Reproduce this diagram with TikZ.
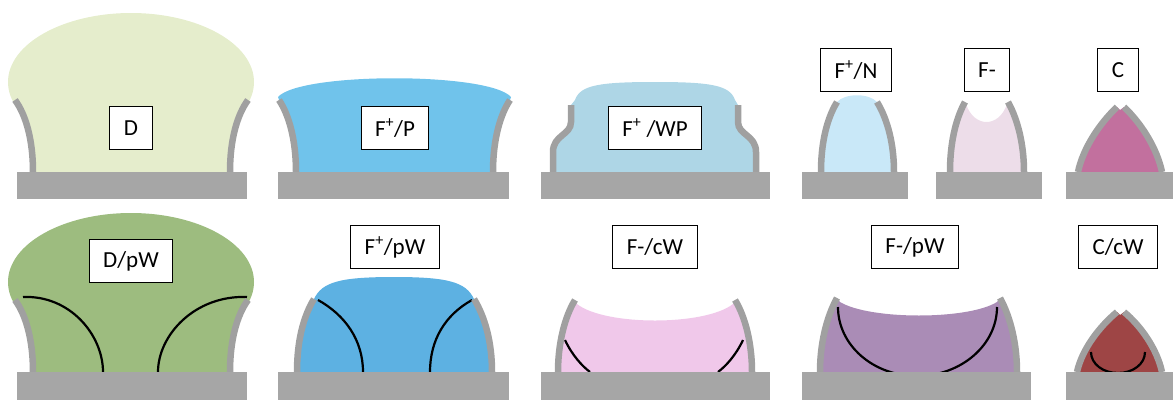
\documentclass[tikz,border=0pt]{standalone}
\usepackage{fontspec}
\usepackage{tikz}
\newfontfamily\labelfont{Carlito}

\definecolor{wallgray}{RGB}{160,160,160}
\definecolor{basegray}{RGB}{166,166,166}
\definecolor{dcol}{RGB}{229,237,204}
\definecolor{fpcol}{RGB}{112,195,235}
\definecolor{fwpcol}{RGB}{174,214,230}
\definecolor{fncol}{RGB}{201,232,248}
\definecolor{fmcol}{RGB}{237,221,233}
\definecolor{ccol}{RGB}{194,112,158}
\definecolor{dpwcol}{RGB}{157,188,127}
\definecolor{fpwcol}{RGB}{93,177,226}
\definecolor{fcwcol}{RGB}{240,200,234}
\definecolor{fmpwcol}{RGB}{170,140,182}
\definecolor{ccwcol}{RGB}{158,69,69}

\tikzset{
  lbl/.style={draw=black, line width=1.1pt, fill=white, minimum height=43pt,
    inner xsep=14pt, font={\labelfont\fontsize{23}{26}\selectfont}},
  wall/.style={draw=wallgray, line width=6.5pt},
  base/.style={fill=basegray},
  trace/.style={draw=black, line width=2.2pt},
}

\begin{document}
\begin{tikzpicture}[x=1pt, y=-1pt]
    \useasboundingbox (0,0) rectangle (1173,400);

    % Top row: fills
    \fill[dcol] (131,82) ellipse [x radius=123, y radius=69];
    \fill[dcol] (15,100) .. controls (26,115) and (33,140) .. (33,172) -- (230,172)
        .. controls (230,140) and (237,115) .. (248,100) -- (248,82) -- (15,82) -- cycle;
    \fill[fpcol] (296,172) .. controls (296,140) and (289,115) .. (279,100) -- (278,97)
        .. controls (300,72) and (489,72) .. (511,97) -- (510,100)
        .. controls (500,115) and (493,140) .. (493,172) -- cycle;
    \fill[fwpcol] (553,172) -- (553,152) .. controls (553,135) and (571,135) .. (571,122) -- (571,105)
        -- (575,100) .. controls (580,85) and (600,82) .. (655,82) .. controls (710,82) and (730,85) .. (735,100)
        -- (738,105) -- (738,122) .. controls (738,135) and (756,135) .. (756,152) -- (756,172) -- cycle;
    \fill[fncol] (821,172) .. controls (821,145) and (826,120) .. (837,102)
        .. controls (845,93) and (869,93) .. (877,102)
        .. controls (888,120) and (894,145) .. (894,172) -- cycle;
    \fill[fmcol] (950,172) .. controls (950,145) and (955,120) .. (965,102) -- (966,104)
        .. controls (974,128) and (999,128) .. (1007,104) -- (1008,102)
        .. controls (1018,120) and (1024,145) .. (1024,172) -- cycle;
    \fill[ccol] (1078,172) .. controls (1083,148) and (1100,123) .. (1117,107) -- (1120,110) -- (1124,107)
        .. controls (1141,123) and (1157,148) .. (1162,172) -- cycle;

    % Top row: walls
    \draw[wall] (15,100) .. controls (26,115) and (33,140) .. (33,172);
    \draw[wall] (248,100) .. controls (237,115) and (230,140) .. (230,172);
    \draw[wall] (279,100) .. controls (289,115) and (296,140) .. (296,172);
    \draw[wall] (510,100) .. controls (500,115) and (493,140) .. (493,172);
    \draw[wall] (571,105) -- (571,122) .. controls (571,135) and (553,135) .. (553,152) -- (553,172);
    \draw[wall] (738,105) -- (738,122) .. controls (738,135) and (756,135) .. (756,152) -- (756,172);
    \draw[wall] (837,102) .. controls (826,120) and (821,145) .. (821,172);
    \draw[wall] (877,102) .. controls (888,120) and (894,145) .. (894,172);
    \draw[wall] (965,102) .. controls (955,120) and (950,145) .. (950,172);
    \draw[wall] (1008,102) .. controls (1018,120) and (1024,145) .. (1024,172);
    \draw[wall] (1117,107) .. controls (1100,123) and (1083,148) .. (1078,172);
    \draw[wall] (1124,107) .. controls (1141,123) and (1157,148) .. (1162,172);

    % Top row: bases
    \fill[base] (17,172) rectangle (247,199);
    \fill[base] (278,172) rectangle (509,199);
    \fill[base] (541,172) rectangle (770,199);
    \fill[base] (802,172) rectangle (908,199);
    \fill[base] (936,172) rectangle (1042,199);
    \fill[base] (1066,172) rectangle (1173,199);

    % Bottom row: fills
    \fill[dpwcol] (131,282) ellipse [x radius=123, y radius=69];
    \fill[dpwcol] (15,300) .. controls (26,315) and (33,340) .. (33,372) -- (230,372)
        .. controls (230,340) and (237,315) .. (248,300) -- (248,282) -- (15,282) -- cycle;
    \fill[fpwcol] (297,372) .. controls (297,342) and (303,317) .. (314,299)
        .. controls (322,282) and (340,277) .. (394,277) .. controls (448,277) and (466,282) .. (474,299)
        .. controls (485,317) and (492,342) .. (492,372) -- cycle;
    \fill[fcwcol] (558,372) .. controls (558,345) and (564,318) .. (575,300) -- (577,304)
        .. controls (605,326) and (705,326) .. (733,304) -- (735,300)
        .. controls (746,318) and (752,345) .. (752,372) -- cycle;
    \fill[fmpwcol] (820,372) .. controls (820,345) and (826,318) .. (837,298) -- (840,302)
        .. controls (870,320) and (968,320) .. (997,302) -- (1000,298)
        .. controls (1011,318) and (1017,345) .. (1017,372) -- cycle;
    \fill[ccwcol] (1077,372) .. controls (1082,349) and (1100,326) .. (1117,312) -- (1120,315) -- (1124,312)
        .. controls (1141,326) and (1157,349) .. (1162,372) -- cycle;

    % Bottom row: wall traces
    \draw[trace] (23,297) .. controls (70,295) and (103,335) .. (103,372);
    \draw[trace] (247,297) .. controls (195,295) and (158,335) .. (158,372);
    \draw[trace] (318,300) .. controls (345,315) and (363,340) .. (363,372);
    \draw[trace] (472,300) .. controls (445,315) and (430,340) .. (430,372);
    \draw[trace] (565,340) .. controls (572,355) and (582,366) .. (590,372);
    \draw[trace] (743,340) .. controls (736,355) and (726,366) .. (718,372);
    \draw[trace] (838,307) .. controls (838,345) and (873,376) .. (917,376)
        .. controls (961,376) and (997,345) .. (997,307);
    \draw[trace] (1091,352) .. controls (1091,364) and (1103,373) .. (1118,373)
        .. controls (1133,373) and (1145,364) .. (1145,352);

    % Bottom row: walls
    \draw[wall] (15,300) .. controls (26,315) and (33,340) .. (33,372);
    \draw[wall] (248,300) .. controls (237,315) and (230,340) .. (230,372);
    \draw[wall] (314,299) .. controls (303,317) and (297,342) .. (297,372);
    \draw[wall] (474,299) .. controls (485,317) and (492,342) .. (492,372);
    \draw[wall] (575,300) .. controls (564,318) and (558,345) .. (558,372);
    \draw[wall] (735,300) .. controls (746,318) and (752,345) .. (752,372);
    \draw[wall] (837,298) .. controls (826,318) and (820,345) .. (820,372);
    \draw[wall] (1000,298) .. controls (1011,318) and (1017,345) .. (1017,372);
    \draw[wall] (1117,312) .. controls (1100,326) and (1082,349) .. (1077,372);
    \draw[wall] (1124,312) .. controls (1141,326) and (1157,349) .. (1162,372);

    % Bottom row: bases
    \fill[base] (17,372) rectangle (247,400);
    \fill[base] (278,372) rectangle (509,400);
    \fill[base] (541,372) rectangle (770,400);
    \fill[base] (802,372) rectangle (1031,400);
    \fill[base] (1066,372) rectangle (1173,400);

    % Labels
    \node[lbl] (lD) at (131,128) {D};
    \node[lbl] (lFP) at (395,128) {F\textsuperscript{+}/P};
    \node[lbl] (lFWP) at (655,128) {F\textsuperscript{+} /WP};
    \node[lbl] (lFN) at (856,70) {F\textsuperscript{+}/N};
    \node[lbl] (lFm) at (987,70) {F-};
    \node[lbl] (lC) at (1118,70) {C};
    \node[lbl] (lDpW) at (131,261) {D/pW};
    \node[lbl] (lFpW) at (395,247) {F\textsuperscript{+}/pW};
    \node[lbl] (lFcW) at (655,247) {F-/cW};
    \node[lbl] (lFmpW) at (915,247) {F-/pW};
    \node[lbl] (lCcW) at (1118,247) {C/cW};
\end{tikzpicture}
\end{document}
